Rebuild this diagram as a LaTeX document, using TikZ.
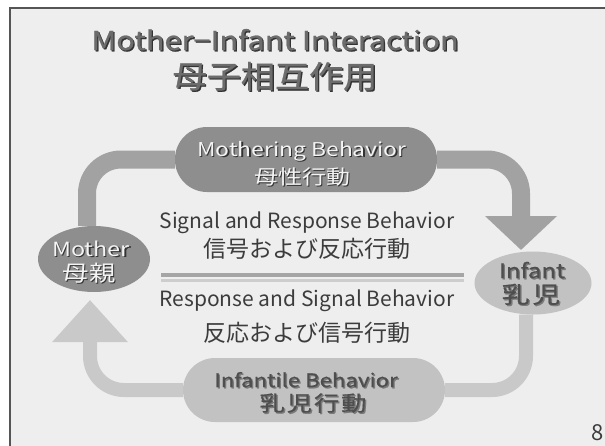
\documentclass[tikz,border=0pt]{standalone}
\usepackage{fontspec}
\setmainfont{Noto Sans CJK JP}
\newfontfamily\widefont{Noto Sans CJK JP}[FakeStretch=1.2]
\newfontfamily\widefirm{Noto Sans CJK JP}[FakeStretch=1.2,FakeBold=0.7]
\newfontfamily\titlefont{Noto Sans CJK JP}[FakeStretch=1.1,FakeBold=0.9]
\newfontfamily\titlelatin{Noto Sans CJK JP}[FakeStretch=1.18,FakeBold=0.9]
\usetikzlibrary{arrows.meta,shapes.geometric}

\definecolor{slidebg}{HTML}{EEEEEE}
\definecolor{framec}{HTML}{555555}
\definecolor{darkfill}{HTML}{8E8E8E}
\definecolor{darkband}{HTML}{A2A2A2}
\definecolor{lightfill}{HTML}{C2C2C2}
\definecolor{lightband}{HTML}{C9C9C9}
\definecolor{inkgray}{HTML}{4E4E4E}
\definecolor{midink}{HTML}{3C3C3C}
\definecolor{titlegray}{HTML}{6C6C6C}
\definecolor{shadowdark}{HTML}{333333}
\definecolor{shadowsoft}{HTML}{7A7A7A}
\definecolor{paleink}{HTML}{F4F4F4}
\definecolor{ruledark}{HTML}{A5A5A5}
\definecolor{rulelight}{HTML}{CDCDCD}

% text with a small drop shadow: #1 text colour, #2 shadow colour
\newcommand{\shd}[3]{\makebox[0pt][l]{\hspace{1.3pt}\raisebox{-1.3pt}{\textcolor{#2}{#3}}}\textcolor{#1}{#3}}
\newcommand{\fsz}[1]{\fontsize{#1}{#1}\selectfont}

\pgfdeclarelayer{slide}
\pgfdeclarelayer{links}
\pgfsetlayers{slide,links,main}

\begin{document}
\begin{tikzpicture}[x=1pt,y=-1pt,
  pill/.style={draw=none, rectangle, rounded corners=32pt, inner sep=0pt},
  oval/.style={draw=none, ellipse, inner sep=0pt},
  txt/.style={anchor=base, inner sep=0pt},
  heavyband/.style={draw=darkband, line width=18pt, rounded corners=34pt},
  lightlink/.style={draw=lightband, line width=14pt, rounded corners=34pt},
]
\useasboundingbox (0,0) rectangle (605,445);

% slide background and frame
\begin{pgfonlayer}{slide}
  \fill[white] (0,0) rectangle (605,445);
  \fill[slidebg] (10,8) rectangle (607,447);
  \draw[framec, line width=1.3pt] (10,447) -- (10,8) -- (607,8);
\end{pgfonlayer}

% title
\node[txt] (title1) at (275,50) {\titlelatin\fsz{26}\shd{titlegray}{shadowdark}{Mother−Infant Interaction}};
\node[txt] (title2) at (275,88) {\titlefont\fsz{31}\shd{titlegray}{shadowdark}{母子相互作用}};

% shapes
\node[pill, fill=darkfill, minimum width=262pt, minimum height=65pt] (mothering) at (306,159.5) {};
\node[oval, fill=darkfill, minimum width=112pt, minimum height=66pt] (mother) at (94,259) {};
\node[oval, fill=lightfill, minimum width=117pt, minimum height=63pt] (infant) at (533,283) {};
\node[pill, fill=lightfill, minimum width=262pt, minimum height=64pt] (infantile) at (314,390) {};

\coordinate (tipinfant) at (521,250);
\coordinate (tipmother) at (90,300);

% connectors
\begin{pgfonlayer}{links}
  \draw[heavyband] ([xshift=-7pt]mother.north) |- (mothering.west);
  \draw[heavyband, -{Triangle[length=34pt,width=70pt]}] (mothering.east) -| (tipinfant);
  \draw[lightlink] ([xshift=-7pt]infant.south) |- (infantile.east);
  \draw[lightlink, -{Triangle[length=42pt,width=73pt]}] (infantile.west) -| (tipmother);
\end{pgfonlayer}

% labels in the shapes
\node[txt] (motheringA) at (302,156) {\widefont\fsz{19}\shd{paleink}{shadowdark}{Mothering Behavior}};
\node[txt] (motheringB) at (302.5,184) {\widefont\fsz{20}\shd{paleink}{shadowdark}{母性行動}};
\node[txt] (motherA) at (91,256) {\widefont\fsz{19.5}\shd{paleink}{shadowdark}{Mother}};
\node[txt] (motherB) at (89,281) {\widefont\fsz{22}\shd{paleink}{shadowdark}{母親}};
\node[txt] (infantA) at (532,278) {\widefirm\fsz{20}\shd{inkgray}{shadowsoft}{Infant}};
\node[txt] (infantB) at (531,303) {\widefirm\fsz{23}\shd{inkgray}{shadowsoft}{乳\kern3pt 児}};
\node[txt] (infantileA) at (306,387) {\widefirm\fsz{18.5}\shd{inkgray}{shadowsoft}{Infantile Behavior}};
\node[txt] (infantileB) at (313,411) {\widefirm\fsz{21}\shd{inkgray}{shadowsoft}{乳\kern2pt 児\kern2pt 行\kern2pt 動}};

% central texts and double rule
\node[txt] (sigA) at (307,228) {\fsz{21}\color{midink}Signal and Response Behavior};
\node[txt] (sigB) at (306.5,257.5) {\fsz{23}\color{midink}信号および反応行動};
\coordinate (ruleL) at (161,275);
\coordinate (ruleR) at (464,275);
\draw[ruledark, line width=4pt] (ruleL) -- (ruleR);
\draw[rulelight, line width=3pt] ([yshift=-5.5pt]ruleL) -- ([yshift=-5.5pt]ruleR);
\node[txt] (resA) at (307,306) {\fsz{21}\color{midink}Response and Signal Behavior};
\node[txt] (resB) at (306.5,341) {\fsz{23}\color{midink}反応および信号行動};

% page number
\node[txt] (page) at (598,440) {\fsz{22}\color{midink}8};
\end{tikzpicture}
\end{document}
